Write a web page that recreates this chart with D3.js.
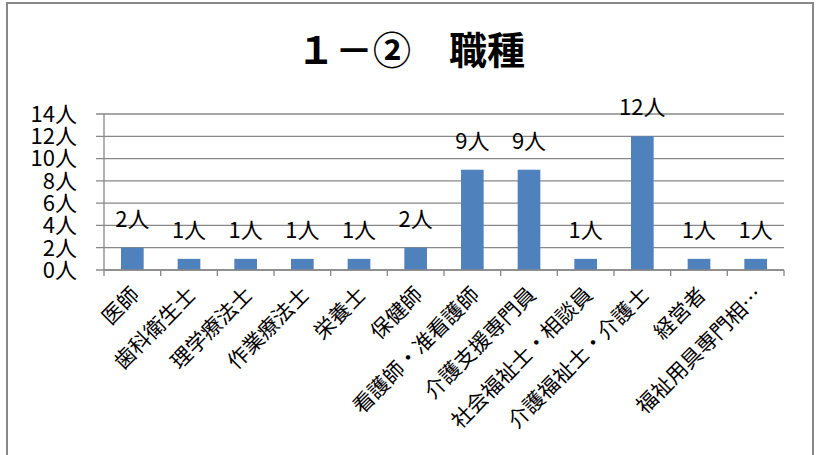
<!DOCTYPE html>
<html><head><meta charset="utf-8">
<script src="https://cdn.jsdelivr.net/npm/d3@7"></script>
<style>body{margin:0;background:#fff}svg{display:block}</style>
</head><body>
<script>
const categories = ["医師","歯科衛生士","理学療法士","作業療法士","栄養士","保健師","看護師・准看護師","介護支援専門員","社会福祉士・相談員","介護福祉士・介護士","経営者","福祉用具専門相…"];
const values = [2,1,1,1,1,2,9,9,1,12,1,1];
const yTicks = [0,2,4,6,8,10,12,14];
const unit = "人";
const title = "１－②\u3000職種";

(function () {
const W = 819, H = 455;
const svg = d3.select("body").append("svg").attr("width", W).attr("height", H);
svg.append("rect").attr("x", 7).attr("y", 3).attr("width", 806).attr("height", 470)
  .attr("fill", "#fff").attr("stroke", "#888").attr("stroke-width", 2);

const font = "'Noto Sans CJK JP', sans-serif";
const pL = 104, pR = 784, pT = 114, pB = 270;
const x = d3.scaleBand().domain(categories).range([pL, pR]).paddingInner(0.6).paddingOuter(0.3);
const xt = d3.scaleBand().domain(categories).range([pL, pR]);
const y = d3.scaleLinear().domain([0, 14]).range([pB, pT]);

svg.append("g").selectAll("line").data(yTicks).join("line")
  .attr("x1", 96).attr("x2", pR).attr("y1", d => y(d)).attr("y2", d => y(d))
  .attr("stroke", "#888").attr("stroke-width", 1.3);
svg.append("line").attr("x1", pL).attr("x2", pL).attr("y1", pT).attr("y2", pB)
  .attr("stroke", "#888").attr("stroke-width", 1.3);
svg.append("g").selectAll("text").data(yTicks).join("text")
  .attr("x", 77).attr("y", d => y(d)).attr("dy", "0.36em").attr("text-anchor", "end")
  .attr("font-family", font).attr("font-size", 22).attr("fill", "#000")
  .text(d => d + unit);

svg.append("g").selectAll("rect").data(values).join("rect")
  .attr("x", (d, i) => x(categories[i])).attr("width", x.bandwidth())
  .attr("y", d => y(d)).attr("height", d => y(0) - y(d)).attr("fill", "#4F81BD");

svg.append("line").attr("x1", pL).attr("x2", pR).attr("y1", pB).attr("y2", pB)
  .attr("stroke", "#888").attr("stroke-width", 1.3);
const tickXs = categories.map(c => xt(c)).concat([pR]);
svg.append("g").selectAll("line").data(tickXs).join("line")
  .attr("x1", d => d).attr("x2", d => d).attr("y1", pB).attr("y2", pB + 6)
  .attr("stroke", "#888").attr("stroke-width", 1.3);

svg.append("g").selectAll("text").data(values).join("text")
  .attr("x", (d, i) => x(categories[i]) + x.bandwidth() / 2).attr("y", d => y(d) - 21)
  .attr("text-anchor", "middle").attr("font-family", font).attr("font-size", 22).attr("fill", "#000")
  .text(d => d + unit);

svg.append("g").selectAll("text").data(categories).join("text")
  .attr("transform", c => `translate(${xt(c) + xt.bandwidth() / 2 + 3},${pB + 21}) rotate(-45)`)
  .attr("text-anchor", "end").attr("dy", "0.35em")
  .attr("font-family", font).attr("font-size", 21).attr("fill", "#000")
  .text(c => c);

svg.append("text").attr("x", 411).attr("y", 64).attr("text-anchor", "middle")
  .attr("font-family", font).attr("font-weight", "bold").attr("font-size", 38).attr("fill", "#000")
  .text(title);
})();
</script>
</body></html>
